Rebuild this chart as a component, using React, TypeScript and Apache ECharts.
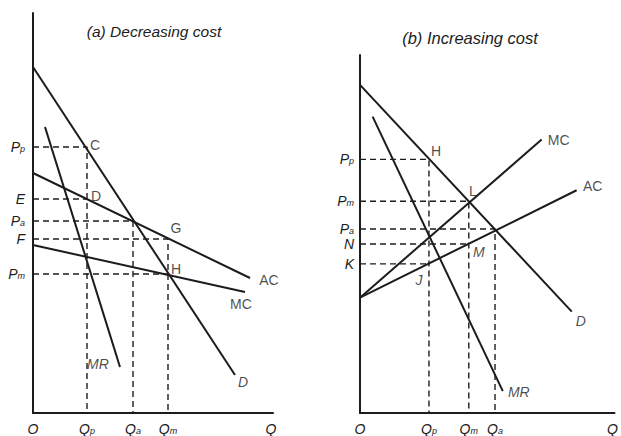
import React, { useEffect, useRef } from "react";
import * as echarts from "echarts";

// ---------- Panel (a): Decreasing cost ----------
const aDemand = [[0, 173], [101, 19]];
const aAC = [[0, 120], [108.5, 67.5]];
const aMC = [[0, 84], [106, 60.5]];
const aMR = [[6, 143], [43.5, 23]];
const aQNames = ["Qp", "Qa", "Qm"];
const aQValues = [27, 50, 67.5];
const aPNames = ["Pp", "E", "Pa", "F", "Pm"];
const aPValues = [133, 107, 96, 87, 69.5];

// ---------- Panel (b): Increasing cost ----------
const bDemand = [[0, 165], [109, 51]];
const bAC = [[0, 58], [111.5, 112]];
const bMC = [[0, 58], [93.5, 137.5]];
const bMR = [[6.5, 149], [73.5, 11]];
const bQNames = ["Qp", "Qm", "Qa"];
const bQValues = [35.5, 56, 69.5];
const bPNames = ["Pp", "Pm", "Pa", "N", "K"];
const bPValues = [127.5, 106.5, 92.5, 85, 75];

const INK = "#1c1c1c";
const FONT = "Liberation Sans";

function rich(name: string) {
  if (name.length === 2 && /[PQ]/.test(name[0])) {
    return `{m|${name[0]}}{s|${name[1]}}`;
  }
  return `{m|${name}}`;
}

const richStyles = {
  m: { fontSize: 14, color: INK, fontFamily: FONT, fontStyle: "italic", lineHeight: 12 },
  s: { fontSize: 9, color: INK, fontFamily: FONT, fontStyle: "italic", verticalAlign: "bottom", lineHeight: 12 },
};

function labelFor(names: string[], values: number[], extra: [number, string][]) {
  return (v: number) => {
    for (const [ev, en] of extra) if (Math.abs(ev - v) < 0.01) return `{m|${en}}`;
    const i = values.findIndex((x) => Math.abs(x - v) < 0.01);
    return i >= 0 ? rich(names[i]) : "";
  };
}

export default function App() {
  const ref = useRef<HTMLDivElement>(null);

  useEffect(() => {
    if (!ref.current) return;
    const chart = echarts.init(ref.current, null, { renderer: "svg" });

    const [aQp, aQa, aQm] = aQValues;
    const [aPp, aE, aPa, aF, aPm] = aPValues;
    const [bQp, bQm, bQa] = bQValues;
    const [bPp, bPm, bPa, bN, bK] = bPValues;

    const aGuides = [
      [[0, aPp], [aQp, aPp], [aQp, 0]],
      [[0, aE], [aQp, aE]],
      [[0, aPa], [aQa, aPa], [aQa, 0]],
      [[0, aF], [aQm, aF], [aQm, 0]],
      [[0, aPm], [aQm, aPm]],
    ];
    const bGuides = [
      [[0, bPp], [bQp, bPp], [bQp, 0]],
      [[0, bPm], [bQm, bPm], [bQm, 0]],
      [[0, bPa], [bQa, bPa], [bQa, 0]],
      [[0, bN], [bQm, bN]],
      [[0, bK], [bQp, bK]],
    ];

    const solid = (data: number[][], idx: number) => ({
      type: "line",
      xAxisIndex: idx,
      yAxisIndex: idx,
      data,
      symbol: "none",
      silent: true,
      lineStyle: { color: INK, width: 2 },
      z: 3,
    });
    const dashed = (data: number[][], idx: number) => ({
      type: "line",
      xAxisIndex: idx,
      yAxisIndex: idx,
      data,
      symbol: "none",
      silent: true,
      lineStyle: { color: INK, width: 1.4, type: [6, 4] },
      z: 2,
    });

    // point labels: [x, y, text, italic?], offsets kept separately
    const aPoints = [
      [aQp, aPp, "C", 0],
      [aQp, aE, "D", 0],
      [aQm, aF, "G", 0],
      [aQm, aPm, "H", 0],
      [aAC[1][0], aAC[1][1], "AC", 0],
      [aMC[1][0], aMC[1][1], "MC", 0],
      [aDemand[1][0], aDemand[1][1], "D", 1],
      [aMR[1][0], aMR[1][1], "MR", 1],
    ];
    const aOffsets = [[8, -3], [9, -4], [8, -12], [8, -6], [19, 1], [-4, 11], [8, 6], [-22, -4]];
    const bPoints = [
      [bQp, bPp, "H", 0],
      [bQm, bPm, "L", 0],
      [bQm, bN, "M", 1],
      [bQp, bK, "J", 1],
      [bMC[1][0], bMC[1][1], "MC", 0],
      [bAC[1][0], bAC[1][1], "AC", 0],
      [bDemand[1][0], bDemand[1][1], "D", 1],
      [bMR[1][0], bMR[1][1], "MR", 1],
    ];
    const bOffsets = [[7, -9], [4, -11], [10, 7], [-10, 15], [17, -1], [16, -5], [9, 8], [16, 0]];

    const pointSeries = (pts: any[][], offs: number[][], idx: number) => ({
      type: "scatter",
      xAxisIndex: idx,
      yAxisIndex: idx,
      symbol: "circle",
      symbolSize: 0,
      silent: true,
      z: 6,
      emphasis: { disabled: true },
      itemStyle: { color: INK },
      data: pts.map((p, i) => ({
        value: [p[0], p[1]],
        label: {
          show: true,
          position: "top",
          distance: 0,
          offset: [offs[i][0], offs[i][1] + 8],
          formatter: p[2] as string,
          color: INK,
          textBorderWidth: 0,
          fontSize: 14,
          fontFamily: FONT,
          fontStyle: p[3] ? "italic" : "normal",
        },
      })),
    });

    const axisCommon = {
      axisLine: { show: true, onZero: false, lineStyle: { color: INK, width: 2 } },
      axisTick: { show: false },
      splitLine: { show: false },
    };

    chart.setOption({
      animation: false,
      backgroundColor: "#ffffff",
      grid: [
        { left: 33, top: 13, width: 240, height: 400 },
        { left: 360, top: 55, width: 262, height: 360 },
      ],
      xAxis: [
        {
          type: "value",
          gridIndex: 0,
          min: 0,
          max: 120,
          ...axisCommon,
          axisLabel: {
            customValues: [0, ...aQValues, 119],
            formatter: labelFor(aQNames, aQValues, [[0, "O"], [119, "Q"]]),
            rich: richStyles,
            color: INK,
            margin: 10,
          },
        },
        {
          type: "value",
          gridIndex: 1,
          min: 0,
          max: 131,
          ...axisCommon,
          axisLabel: {
            customValues: [0, ...bQValues, 130],
            formatter: labelFor(bQNames, bQValues, [[0, "O"], [130, "Q"]]),
            rich: richStyles,
            color: INK,
            margin: 10,
          },
        },
      ],
      yAxis: [
        {
          type: "value",
          gridIndex: 0,
          min: 0,
          max: 200,
          ...axisCommon,
          axisLabel: {
            customValues: aPValues,
            formatter: labelFor(aPNames, aPValues, []),
            rich: richStyles,
            color: INK,
            margin: 8,
          },
        },
        {
          type: "value",
          gridIndex: 1,
          min: 0,
          max: 180,
          ...axisCommon,
          axisLabel: {
            customValues: bPValues,
            formatter: labelFor(bPNames, bPValues, []),
            rich: richStyles,
            color: INK,
            margin: 6,
          },
        },
      ],
      graphic: [
        {
          type: "text",
          x: 154,
          y: 31,
          style: {
            text: "(a) Decreasing cost",
            textAlign: "center",
            textVerticalAlign: "middle",
            fill: INK,
            font: `italic 15.5px "${FONT}"`,
          },
        },
        {
          type: "text",
          x: 470,
          y: 38,
          style: {
            text: "(b) Increasing cost",
            textAlign: "center",
            textVerticalAlign: "middle",
            fill: INK,
            font: `italic 16.5px "${FONT}"`,
          },
        },
      ],
      series: [
        solid(aDemand, 0),
        solid(aAC, 0),
        solid(aMC, 0),
        solid(aMR, 0),
        ...aGuides.map((g) => dashed(g, 0)),
        pointSeries(aPoints, aOffsets, 0),
        solid(bDemand, 1),
        solid(bAC, 1),
        solid(bMC, 1),
        solid(bMR, 1),
        ...bGuides.map((g) => dashed(g, 1)),
        pointSeries(bPoints, bOffsets, 1),
      ],
    });

    return () => chart.dispose();
  }, []);

  return (
    <div
      ref={ref}
      style={{ position: "fixed", left: 0, top: 0, width: 621, height: 436, background: "#fff" }}
    />
  );
}
